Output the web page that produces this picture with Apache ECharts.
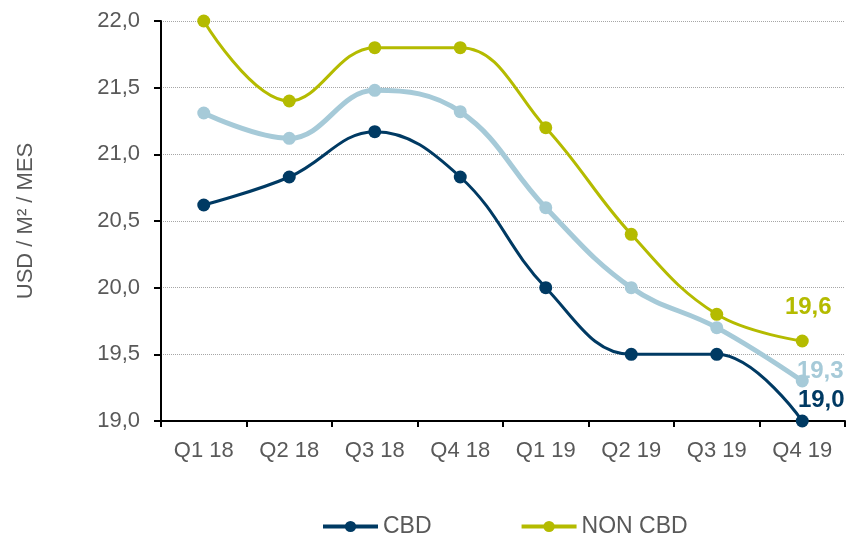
<!DOCTYPE html>
<html>
<head>
<meta charset="utf-8">
<script src="https://cdn.jsdelivr.net/npm/echarts@6/dist/echarts.min.js"></script>
<style>
  html, body { margin: 0; padding: 0; background: #fff; }
  #chart { width: 856px; height: 535px; }
</style>
</head>
<body>
<div id="chart"></div>
<script>
var categories = ['Q1 18', 'Q2 18', 'Q3 18', 'Q4 18', 'Q1 19', 'Q2 19', 'Q3 19', 'Q4 19'];
var cbd = [20.62, 20.83, 21.17, 20.83, 20.0, 19.5, 19.5, 19.0];
var nonCbd = [22.0, 21.4, 21.8, 21.8, 21.2, 20.4, 19.8, 19.6];
var total = [21.31, 21.12, 21.48, 21.32, 20.6, 20.0, 19.7, 19.3];

var fmt = function (v) { return v.toFixed(1).replace('.', ','); };

// etiqueta solo en el ultimo punto
function withEndLabel(values, color, offset) {
    return values.map(function (v, i) {
        if (i !== values.length - 1) return v;
        return {
            value: v,
            label: {
                show: true,
                position: 'top',
                offset: offset,
                color: color,
                fontSize: 24,
                fontWeight: 'bold',
                fontFamily: 'Liberation Sans',
                formatter: function (p) { return fmt(p.value); }
            }
        };
    });
}

var chart = echarts.init(document.getElementById('chart'));
var option = {
    animation: false,
    grid: { left: 161, right: 11, top: 21, bottom: 114 },
    legend: {
        data: ['CBD', 'NON CBD'],
        top: 510,
        left: 316,
        itemWidth: 55,
        itemHeight: 14,
        itemGap: 88,
        lineStyle: { width: 4 },
        textStyle: { color: '#595959', fontSize: 23, fontFamily: 'Liberation Sans', padding: [0, 0, 0, 0] }
    },
    xAxis: {
        type: 'category',
        data: categories,
        boundaryGap: true,
        axisLine: { lineStyle: { color: '#000', width: 2 } },
        axisTick: { show: true, length: 6, lineStyle: { color: '#000', width: 2 } },
        axisLabel: { color: '#595959', fontSize: 22, margin: 19, fontFamily: 'Liberation Sans' }
    },
    yAxis: {
        type: 'value',
        min: 19,
        max: 22,
        interval: 0.5,
        name: 'USD / M² / MES',
        nameLocation: 'middle',
        nameGap: 124,
        nameTextStyle: { color: '#595959', fontSize: 22, fontFamily: 'Liberation Sans' },
        axisLine: { show: true, lineStyle: { color: '#000', width: 2 } },
        axisTick: { show: true, length: 7, lineStyle: { color: '#000', width: 2 } },
        axisLabel: { color: '#595959', fontSize: 22, margin: 21, fontFamily: 'Liberation Sans',
            formatter: function (v) { return fmt(v); } },
        splitLine: { lineStyle: { color: '#a6a6a6', type: 'dotted', width: 1 } }
    },
    series: [
        {
            name: 'TOTAL',
            type: 'line',
            smooth: 0.4,
            data: withEndLabel(total, '#a6cad8', [18, 14]),
            symbol: 'circle',
            symbolSize: 13,
            lineStyle: { color: '#a6cad8', width: 5 },
            itemStyle: { color: '#a6cad8' },
            z: 2
        },
        {
            name: 'NON CBD',
            type: 'line',
            smooth: 0.4,
            data: withEndLabel(nonCbd, '#b4bb00', [6, -10]),
            symbol: 'circle',
            symbolSize: 13,
            lineStyle: { color: '#b4bb00', width: 3 },
            itemStyle: { color: '#b4bb00' },
            z: 3
        },
        {
            name: 'CBD',
            type: 'line',
            smooth: 0.4,
            data: withEndLabel(cbd, '#003a63', [19, 3]),
            symbol: 'circle',
            symbolSize: 13,
            lineStyle: { color: '#003a63', width: 3 },
            itemStyle: { color: '#003a63' },
            z: 4
        }
    ]
};
chart.setOption(option);
</script>
</body>
</html>
